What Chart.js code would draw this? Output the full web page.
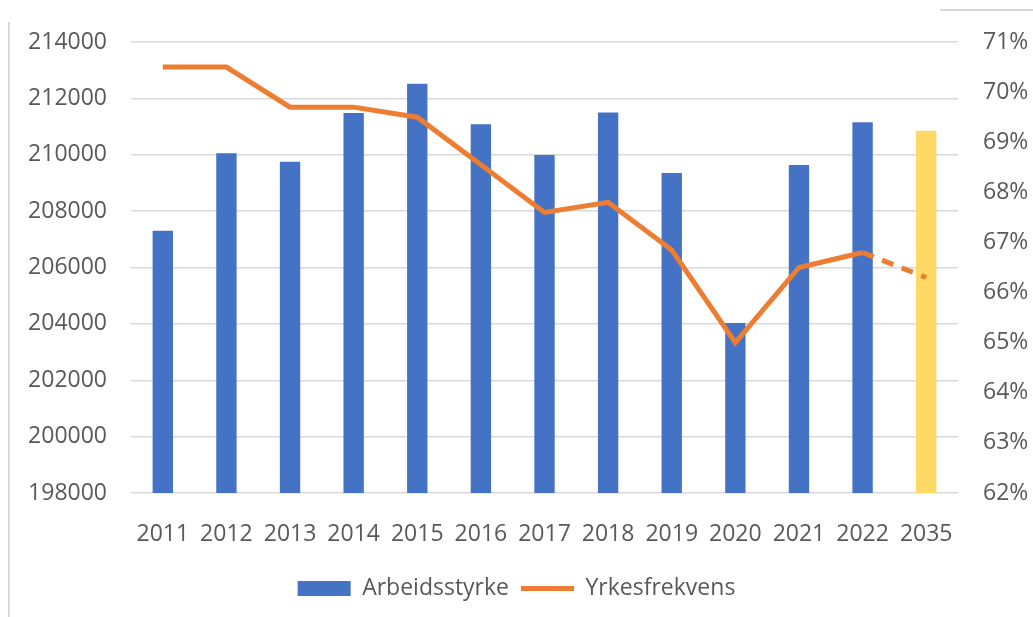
<!DOCTYPE html>
<html>
<head>
<meta charset="utf-8">
<script src="https://cdn.jsdelivr.net/npm/chart.js@4"></script>
<style>
    html, body { margin: 0; padding: 0; background: #ffffff; }
    #wrap { position: relative; width: 1033px; height: 617px; }
    #leftLine { position: absolute; left: 8px; top: 22px; width: 2px; height: 595px; background: #d9d9d9; }
    #topLine { position: absolute; left: 940px; top: 9px; width: 93px; height: 2px; background: #d9d9d9; }
</style>
</head>
<body>
<div id="wrap">
    <div id="leftLine"></div>
    <div id="topLine"></div>
    <canvas id="chart" width="1033" height="617"></canvas>
</div>
<script>

// ===== DATA =====
const years = ["2011", "2012", "2013", "2014", "2015", "2016", "2017",
               "2018", "2019", "2020", "2021", "2022", "2035"];

const arbeidsstyrke = [207300, 210050, 209750, 211480, 212520, 211080, 209990,
                       211500, 209350, 204030, 209640, 211150, 210850];

const yrkesfrekvens = [70.5, 70.5, 69.7, 69.7, 69.5, 68.55, 67.6,
                       67.8, 66.85, 65.0, 66.5, 66.8, 66.3];

const textColor = "#595959";
const fontFamily = "'Open Sans', 'Liberation Sans', sans-serif";

// last bar (projection) is yellow
const barColors = years.map((y, i) =>
    i === years.length - 1 ? "#ffd966" : "#4472c4");

const ctx = document.getElementById("chart").getContext("2d");

new Chart(ctx, {

    type: "bar",

    data: {

        labels: years,

        datasets: [
            {
                type: "bar",
                label: "Arbeidsstyrke",
                data: arbeidsstyrke,
                backgroundColor: barColors,
                borderWidth: 0,
                barPercentage: 0.32,
                categoryPercentage: 1,
                yAxisID: "y",
                pointStyle: "rect",
                order: 2
            },
            {
                type: "line",
                label: "Yrkesfrekvens",
                data: yrkesfrekvens,
                borderColor: "#ed7d31",
                backgroundColor: "#ed7d31",
                borderWidth: 5,
                pointRadius: 0,
                pointStyle: "line",
                tension: 0,
                yAxisID: "y1",
                order: 1,
                segment: {
                    // projection to 2035 is dashed
                    borderDash: c => c.p1DataIndex === years.length - 1 ? [12, 9] : undefined
                }
            }
        ]
    },

    options: {

        responsive: false,
        animation: false,

        layout: {
            padding: { top: 42, bottom: 7, left: 0, right: 0 }
        },

        scales: {

            x: {
                grid: { display: false },
                border: { display: false },
                ticks: {
                    color: textColor,
                    padding: 20,
                    maxRotation: 0,
                    font: { family: fontFamily, size: 23 }
                },
                afterFit: s => { s.height = 72; }
            },

            y: {
                position: "left",
                min: 198000,
                max: 214000,
                border: { display: false },
                grid: { color: "#d9d9d9", lineWidth: 1.5, drawTicks: false },
                ticks: {
                    stepSize: 2000,
                    color: textColor,
                    padding: 24,
                    font: { family: fontFamily, size: 23 },
                    callback: v => String(v)
                },
                afterFit: s => { s.width = 131; }
            },

            y1: {
                position: "right",
                min: 62,
                max: 71,
                border: { display: false },
                grid: { display: false, drawTicks: false },
                ticks: {
                    stepSize: 1,
                    color: textColor,
                    padding: 25,
                    font: { family: fontFamily, size: 23 },
                    callback: v => v + "%"
                },
                afterFit: s => { s.width = 75; }
            }
        },

        plugins: {

            legend: {
                position: "bottom",
                labels: {
                    usePointStyle: true,
                    pointStyleWidth: 53,
                    boxHeight: 15,
                    padding: 12,
                    color: textColor,
                    font: { family: fontFamily, size: 23 },
                    sort: (a, b) => a.datasetIndex - b.datasetIndex
                }
            },

            tooltip: { enabled: false }
        }
    }
});
</script>
</body>
</html>
